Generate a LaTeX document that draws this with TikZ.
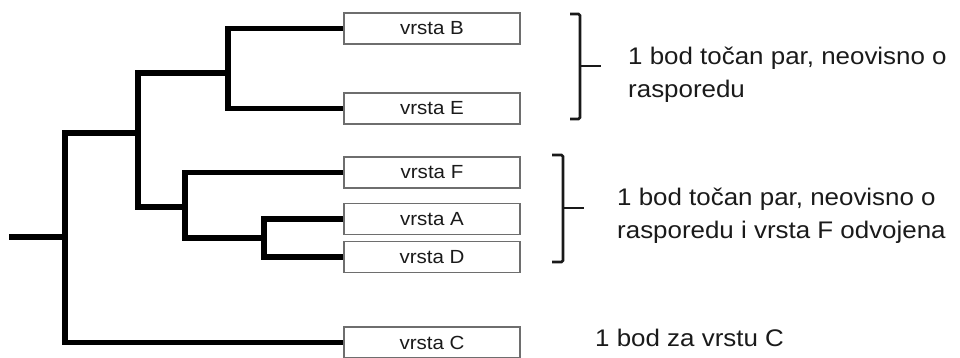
\documentclass[tikz,border=0pt]{standalone}
\usepackage{fontspec}
\setmainfont{Liberation Sans}[FakeStretch=1.08]
\definecolor{boxline}{HTML}{6E6E6E}
\definecolor{txt}{HTML}{1A1A1A}
\begin{document}
\begin{tikzpicture}[x=1pt,y=-1pt,
  tree/.style={line width=5.5pt,line join=miter,draw=black},
  sp/.style={draw=boxline,line width=1.5pt,fill=white,minimum width=176pt,minimum height=31pt,inner sep=0pt,
    font=\fontsize{19}{22}\selectfont,text=txt},
  brk/.style={line width=2.6pt,draw=black!90,rounded corners=1.5pt},
  note/.style={anchor=base west,inner sep=0pt,text=txt,font=\fontsize{24}{33}\selectfont}]
\useasboundingbox (0,0) rectangle (960,358);
% species boxes
\node[sp] (B) at (432,28.5) {vrsta B};
\node[sp] (E) at (432,108.5) {vrsta E};
\node[sp] (F) at (432,172.5) {vrsta F};
\node[sp] (A) at (432,219) {vrsta A};
\node[sp] (D) at (432,257) {vrsta D};
\node[sp] (C) at (432,342.5) {vrsta C};
% internal nodes
\coordinate (nBE) at (228,73);
\coordinate (n2) at (138,133);
\coordinate (nFAD) at (185,207);
\coordinate (nAD) at (264,238);
\coordinate (root) at (65,237);
\coordinate (stem) at (9,237);
% tree
\draw[tree] (B.west) -| (nBE) |- (E.west);
\draw[tree] (nBE) -| (n2) |- (nFAD);
\draw[tree] (F.west) -| (nFAD) |- (nAD);
\draw[tree] (A.west) -| (nAD) |- (D.west);
\draw[tree] (n2) -| (root) |- (C.west);
\draw[tree] (stem) -- (root);
% brackets
\coordinate (b1t) at (570,14);
\coordinate (b1b) at (570,119);
\coordinate (b1m) at (580,66);
\coordinate (b1e) at (601,66);
\draw[brk] (b1t) -- (580,14) -- (580,119) -- (b1b);
\draw[brk] (b1m) -- (b1e);
\coordinate (b2t) at (552,155);
\coordinate (b2b) at (552,262);
\coordinate (b2m) at (563,208);
\coordinate (b2e) at (584,208);
\draw[brk] (b2t) -- (563,155) -- (563,262) -- (b2b);
\draw[brk] (b2m) -- (b2e);
% notes
\node[note] (t1) at (628,65) {\vtop{\hbox{1 bod točan par, neovisno o}\hbox{rasporedu}}};
\node[note] (t2) at (617,205.5) {\vtop{\hbox{1 bod točan par, neovisno o}\hbox{rasporedu i vrsta F odvojena}}};
\node[note] (t3) at (595,346.5) {1 bod za vrstu C};
\end{tikzpicture}
\end{document}
